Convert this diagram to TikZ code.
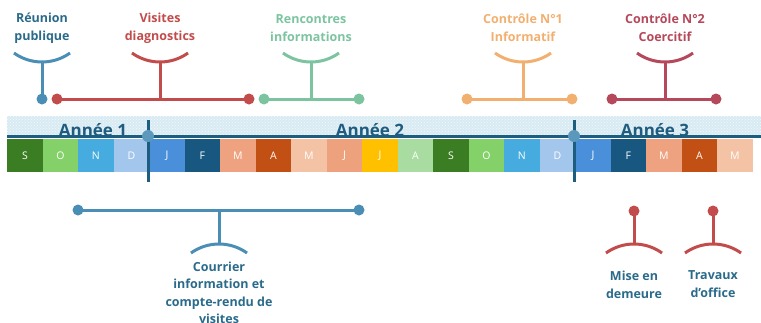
\documentclass[tikz,border=0pt]{standalone}
\usepackage{fontspec}
\setmainfont{Open Sans}
\usetikzlibrary{patterns}
\definecolor{teal}{HTML}{2A6A8A}
\definecolor{yeartxt}{HTML}{1F5C7F}
\definecolor{cblue}{HTML}{4A8DB5}
\definecolor{cred}{HTML}{C24B4B}
\definecolor{cgreen}{HTML}{7CC4A0}
\definecolor{corange}{HTML}{F2B070}
\definecolor{cwine}{HTML}{B5485A}
\definecolor{band}{HTML}{D8EBF3}
\definecolor{bandline}{HTML}{1D5E80}
\definecolor{mS}{HTML}{3B7D23}
\definecolor{mO}{HTML}{84D16A}
\definecolor{mN}{HTML}{46ACE0}
\definecolor{mD}{HTML}{A3C6EC}
\definecolor{mJ}{HTML}{4A8FD9}
\definecolor{mF}{HTML}{185780}
\definecolor{mM}{HTML}{EEA27F}
\definecolor{mA}{HTML}{C24F14}
\definecolor{mMay}{HTML}{F4C3A6}
\definecolor{mJun}{HTML}{EDA27D}
\definecolor{mJul}{HTML}{FFC000}
\definecolor{mAug}{HTML}{A8DCA0}
\tikzset{
  lbl/.style={font=\fontsize{12.5}{18}\selectfont\bfseries, align=center},
  yearlbl/.style={font=\fontsize{17}{18}\selectfont\bfseries, text=yeartxt},
  mcell/.style={minimum width=35.5pt, minimum height=33pt, inner sep=0pt, anchor=north west, text=white, font=\fontsize{10.5}{12}\selectfont},
  tline/.style={line width=3pt},
  dot/.style={circle, inner sep=0pt, minimum size=11pt},
}
% smile bracket centred at x, ends at y=53, middle at y=62
\newcommand{\smilebr}[2]{\draw[tline, #2] ({#1-28},53) .. controls ({#1-11.3},65) and ({#1+11.3},65) .. ({#1+28},53);}
% frown bracket centred at x, ends at y=253, middle at y=244
\newcommand{\frownbr}[2]{\draw[tline, #2] ({#1-28},253) .. controls ({#1-11.3},241) and ({#1+11.3},241) .. ({#1+28},253);}
\begin{document}
\begin{tikzpicture}[x=1pt,y=-1pt]
\useasboundingbox (0,0) rectangle (761,322);
% band
\fill[band] (7,116) rectangle (761,136);
\fill[pattern=crosshatch dots, pattern color=white!70!band] (7,116) rectangle (761,136);
\fill[bandline] (7,135) rectangle (761,138);
% months
\foreach \c/\l [count=\i from 0] in {mS/S,mO/O,mN/N,mD/D,mJ/J,mF/F,mM/M,mA/A,mMay/M,mJun/J,mJul/J,mAug/A,mS/S,mO/O,mN/N,mD/D,mJ/J,mF/F,mM/M,mA/A,mMay/M}
  \node[mcell, fill=\c] (m\i) at ({7+35.5*\i},139) {\l};
% year labels
\node[yearlbl] (y1) at (93,130) {Année 1};
\node[yearlbl] (y2) at (370,130) {Année 2};
\node[yearlbl] (y3) at (655,130) {Année 3};
% year dividers
\foreach \x/\n in {148/a,574/b}{
  \draw[bandline, line width=3pt] (\x,120) -- (\x,182);
  \node[dot, fill=cblue!90!white, minimum size=12pt] (div\n) at (\x,136) {};
}
% Reunion publique
\node[lbl, text=teal] (t1) at (42,28) {Réunion\\publique};
\coordinate (s1) at (42,62);
\node[dot, fill=cblue] (d1) at (42,99) {};
\draw[tline, cblue] (s1) -- (d1.center);
\smilebr{42}{cblue}
% Visites diagnostics
\node[lbl, text=cred] (t2) at (160,28) {Visites\\diagnostics};
\node[dot, fill=cred] (d2a) at (57,99) {};
\node[dot, fill=cred] (d2b) at (249,99) {};
\draw[tline, cred] (d2a.center) -- (d2b.center);
\coordinate (s2) at (160,62);
\coordinate (b2) at (160,99);
\draw[tline, cred] (s2) -- (b2);
\smilebr{160}{cred}
% Rencontres informations
\node[lbl, text=cgreen] (t3) at (311,28) {Rencontres\\informations};
\node[dot, fill=cgreen] (d3a) at (264,99) {};
\node[dot, fill=cgreen] (d3b) at (359,99) {};
\draw[tline, cgreen] (d3a.center) -- (d3b.center);
\coordinate (s3) at (311,62);
\coordinate (b3) at (311,99);
\draw[tline, cgreen] (s3) -- (b3);
\smilebr{311}{cgreen}
% Controle 1
\node[lbl, text=corange] (t4) at (523,28) {Contrôle N°1\\Informatif};
\node[dot, fill=corange] (d4a) at (467,99) {};
\node[dot, fill=corange] (d4b) at (572,99) {};
\draw[tline, corange] (d4a.center) -- (d4b.center);
\coordinate (s4) at (523,62);
\coordinate (b4) at (523,99);
\draw[tline, corange] (s4) -- (b4);
\smilebr{523}{corange}
% Controle 2
\node[lbl, text=cwine] (t5) at (665,28) {Contrôle N°2\\Coercitif};
\node[dot, fill=cwine] (d5a) at (612,99) {};
\node[dot, fill=cwine] (d5b) at (716,99) {};
\draw[tline, cwine] (d5a.center) -- (d5b.center);
\coordinate (s5) at (665,62);
\coordinate (b5) at (665,99);
\draw[tline, cwine] (s5) -- (b5);
\smilebr{665}{cwine}
% bottom: Courrier
\node[dot, fill=cblue] (d6a) at (78,210) {};
\node[dot, fill=cblue] (d6b) at (359,210) {};
\draw[tline, cblue] (d6a.center) -- (d6b.center);
\coordinate (s6) at (219,210);
\coordinate (b6) at (219,244);
\draw[tline, cblue] (s6) -- (b6);
\frownbr{219}{cblue}
\node[lbl, text=teal, font=\fontsize{12.5}{17.5}\selectfont\bfseries, anchor=north] (t6) at (219,258) {Courrier\\information et\\compte-rendu de\\visites};
% Mise en demeure
\node[dot, fill=cred] (d7) at (634,211) {};
\coordinate (b7) at (634,244);
\draw[tline, cred] (d7.center) -- (b7);
\frownbr{634}{cred}
\node[lbl, text=teal, anchor=north] (t7) at (634,267) {Mise en\\demeure};
% Travaux d'office
\node[dot, fill=cred] (d8) at (713,211) {};
\coordinate (b8) at (713,244);
\draw[tline, cred] (d8.center) -- (b8);
\frownbr{713}{cred}
\node[lbl, text=teal, anchor=north] (t8) at (713,267) {Travaux\\d’office};
\end{tikzpicture}
\end{document}
